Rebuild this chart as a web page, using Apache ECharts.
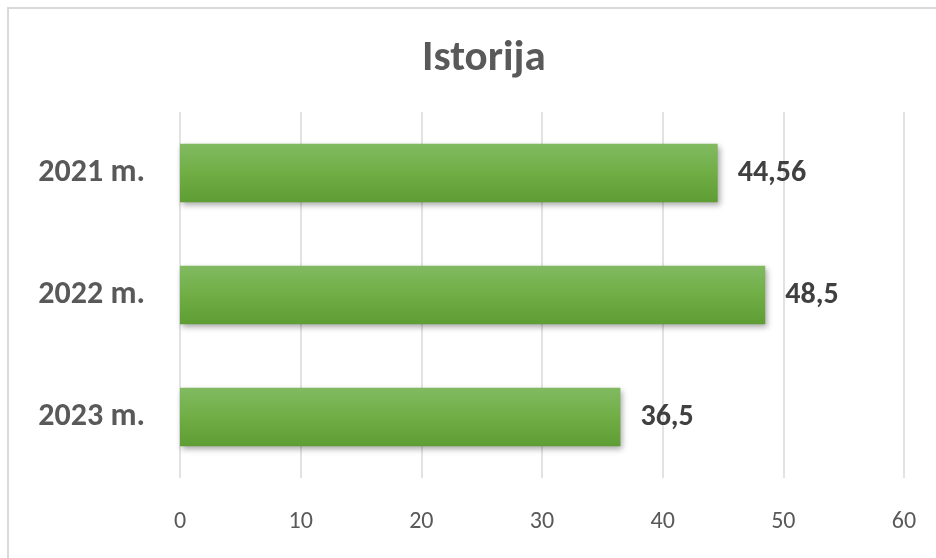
<!DOCTYPE html>
<html>
<head>
<meta charset="utf-8">
<script src="https://cdn.jsdelivr.net/npm/echarts@6/dist/echarts.min.js"></script>
<style>
html,body{margin:0;padding:0;background:#fff;}
#chart{width:936px;height:558px;}
</style>
</head>
<body>
<div id="chart"></div>
<script>
const title = 'Istorija';
const categories = ['2021 m.', '2022 m.', '2023 m.'];
const values = [44.56, 48.5, 36.5];
const valueLabels = ['44,56', '48,5', '36,5'];
const axisMin = 0, axisMax = 60, axisStep = 10;

const FONT = 'Carlito, "Open Sans", sans-serif';
const chart = echarts.init(document.getElementById('chart'), null, {renderer: 'canvas'});
chart.setOption({
  backgroundColor: '#ffffff',
  animation: false,
  title: {
    text: title, left: 417, top: 33,
    textStyle: {fontFamily: FONT, fontWeight: 'bold', fontSize: 43, color: '#595959'}
  },
  graphic: [{
    type: 'rect', silent: true, z: -1,
    shape: {x: 8, y: 8, width: 1200, height: 1200},
    style: {fill: 'none', stroke: '#d9d9d9', lineWidth: 2}
  }],
  grid: {left: 180, right: 32, top: 112, bottom: 80, containLabel: false},
  xAxis: {
    type: 'value', min: axisMin, max: axisMax, interval: axisStep,
    axisLine: {show: false}, axisTick: {show: false},
    splitLine: {show: true, lineStyle: {color: '#d9d9d9', width: 1.5}},
    axisLabel: {margin: 32, fontFamily: FONT, fontSize: 24, color: '#595959'}
  },
  yAxis: {
    type: 'category', data: categories, inverse: true,
    axisLine: {show: false}, axisTick: {show: false},
    axisLabel: {margin: 35, fontFamily: FONT, fontSize: 32, fontWeight: 'bold', color: '#595959'}
  },
  series: [{
    type: 'bar', data: values, barWidth: '48%',
    itemStyle: {
      color: new echarts.graphic.LinearGradient(0, 0, 0, 1, [
        {offset: 0, color: '#81ba61'},
        {offset: 0.5, color: '#70ae45'},
        {offset: 1, color: '#5e9c34'}
      ]),
      shadowColor: 'rgba(0,0,0,0.35)', shadowBlur: 6, shadowOffsetX: 2, shadowOffsetY: 3
    },
    label: {
      show: true, position: 'right', distance: 20,
      formatter: p => valueLabels[p.dataIndex],
      fontFamily: FONT, fontSize: 30, fontWeight: 'bold', color: '#404040'
    }
  }]
});
</script>
</body>
</html>
